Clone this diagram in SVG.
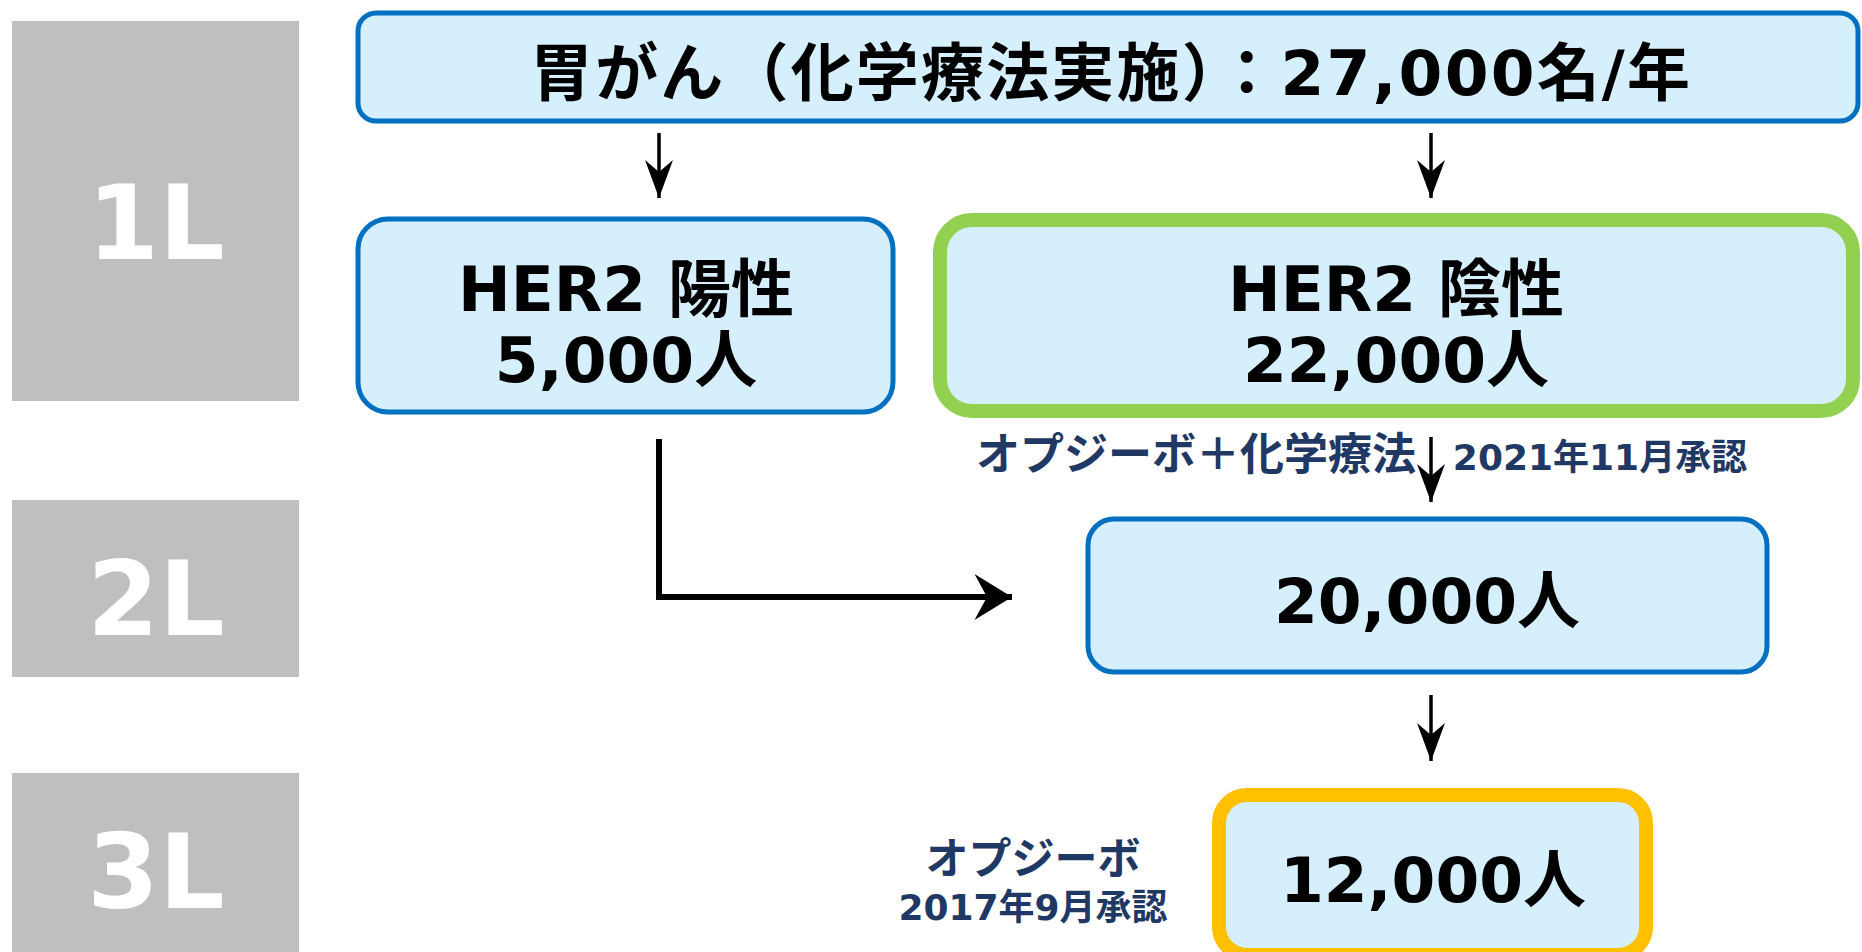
<svg xmlns="http://www.w3.org/2000/svg" width="1862" height="952" viewBox="0 0 1862 952">
<style>
.lvl{fill:#BFBFBF}
.lvlt{font-family:"DejaVu Sans","Noto Sans CJK JP",sans-serif;font-weight:bold;font-size:103px;fill:#FFFFFF;text-anchor:middle}
.box{fill:#D5EFFC;stroke:#0070C0;stroke-width:5}
.green{fill:#D5EFFC;stroke:#92D050;stroke-width:14}
.orange{fill:#D5EFFC;stroke:#FFC000;stroke-width:14}
.t{font-family:"DejaVu Sans","Noto Sans CJK JP",sans-serif;font-weight:bold;font-size:63px;fill:#000000;text-anchor:middle}
.n{font-family:"DejaVu Sans","Noto Sans CJK JP",sans-serif;font-weight:bold;fill:#1F3864;text-anchor:middle}
.thin{fill:none;stroke:#000;stroke-width:3.5}
.thick{fill:none;stroke:#000;stroke-width:6}
</style>
<defs>
<marker id="ah" markerUnits="userSpaceOnUse" markerWidth="44" markerHeight="34" viewBox="-38 -17 40 34" refX="0" refY="0" orient="auto">
<path d="M0,0 L-38,-14 L-26,0 L-38,14 Z" fill="#000"/>
</marker>
<marker id="ahb" markerUnits="userSpaceOnUse" markerWidth="50" markerHeight="50" viewBox="-36 -24 38 48" refX="0" refY="0" orient="auto">
<path d="M0,0 L-36,-22 L-24,0 L-36,22 Z" fill="#000"/>
</marker>
</defs>
<g id="level-1L"><rect class="lvl" x="12" y="21" width="287" height="380"/><text class="lvlt" x="156" y="259">1L</text></g>
<g id="level-2L"><rect class="lvl" x="12" y="500" width="287" height="177"/><text class="lvlt" x="156" y="635">2L</text></g>
<g id="level-3L"><rect class="lvl" x="12" y="773" width="287" height="179"/><text class="lvlt" x="156" y="908">3L</text></g>
<g id="node-total"><rect class="box" x="358" y="13" width="1500" height="108" rx="18"/><text class="t" x="1110" y="95" font-size="64" textLength="1160" lengthAdjust="spacing">胃がん（化学療法実施）：27,000名/年</text></g>
<g id="node-her2pos"><rect class="box" x="358" y="219" width="535" height="193" rx="30"/><text class="t" x="626" y="311">HER2 陽性</text><text class="t" x="626" y="382">5,000人</text></g>
<g id="node-her2neg"><rect class="green" x="940" y="220" width="913" height="191" rx="32"/><text class="t" x="1396" y="311">HER2 陰性</text><text class="t" x="1396" y="382">22,000人</text></g>
<g id="node-2L"><rect class="box" x="1088" y="519" width="679" height="153" rx="26"/><text class="t" x="1427" y="623">20,000人</text></g>
<g id="node-3L"><rect class="orange" x="1219" y="795" width="427" height="160" rx="28"/><text class="t" x="1433" y="902">12,000人</text></g>
<g id="connectors">
<line class="thin" x1="659" y1="133" x2="659" y2="198" marker-end="url(#ah)"/>
<line class="thin" x1="1431" y1="133" x2="1431" y2="198" marker-end="url(#ah)"/>
<line class="thin" x1="1431" y1="437" x2="1431" y2="502" marker-end="url(#ah)"/>
<line class="thin" x1="1431" y1="695" x2="1431" y2="761" marker-end="url(#ah)"/>
<polyline class="thick" points="659,439 659,597 1012,597" marker-end="url(#ahb)"/>
</g>
<g id="labels">
<text class="n" x="1196" y="470" font-size="44">オプジーボ＋化学療法</text>
<text class="n" x="1600" y="470" font-size="36">2021年11月承認</text>
<text class="n" x="1033" y="874" font-size="43">オプジーボ</text>
<text class="n" x="1033" y="920" font-size="36">2017年9月承認</text>
</g>
</svg>
